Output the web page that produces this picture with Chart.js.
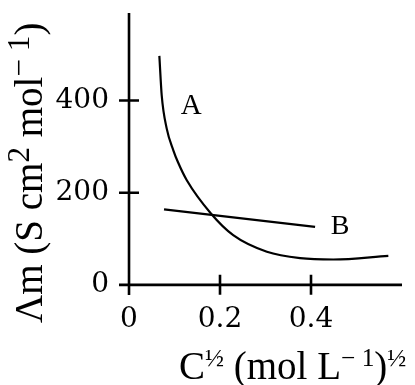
<!DOCTYPE html>
<html>
<head>
<meta charset="utf-8">
<script src="https://cdn.jsdelivr.net/npm/chart.js@4/dist/chart.umd.min.js"></script>
<style>
  html, body { margin: 0; padding: 0; background: #ffffff; }
  #wrap { width: 415px; height: 385px; }
</style>
</head>
<body>
<div id="wrap"><canvas id="c" width="415" height="385"></canvas></div>
<script>
// ---- data ----
const curveA_x = [0.0667, 0.0719, 0.0829, 0.0974, 0.1077, 0.127, 0.180, 0.229, 0.303, 0.376, 0.449, 0.570];
const curveA_y = [497, 411, 339, 292, 266, 227, 155, 108, 72, 58, 55, 63];
const lineB_x = [0.077, 0.409];
const lineB_y = [164, 126];
const xTickValues = [0, 0.2, 0.4];
const yTickValues = [0, 200, 400];
const seriesLabels = ["A", "B"];
const labelPos_x = [0.137, 0.464];
const labelPos_y = [388, 126];
// titles as rich-text segments (text, isSuperscript)
const xTitleParts = [["C", false], ["\u00BD", true], [" (mol L", false], ["\u2212 1", true], [")", false], ["\u00BD", true]];
const yTitleParts = [["\u039Bm (S cm", false], ["2", true], [" mol", false], ["\u2212 1", true], [")", false]];

const FONT = "'Liberation Serif', 'Times New Roman', serif";
const TICKFONT = "'DejaVu Serif', serif";

const toPts = (xs, ys) => xs.map((x, i) => ({ x: x, y: ys[i] }));

function drawRich(ctx, parts, size, supScale, supRise) {
  let x = 0;
  parts.forEach(([t, sup]) => {
    const s = sup ? size * supScale : size;
    ctx.font = s + "px " + FONT;
    ctx.fillText(t, x, sup ? -size * supRise : 0);
    x += ctx.measureText(t).width;
  });
}

const axesPlugin = {
  id: 'axesPlugin',
  afterDatasetsDraw(chart) {
    const ctx = chart.ctx;
    const xs = chart.scales.x, ys = chart.scales.y;
    const x0 = xs.getPixelForValue(0), y0 = ys.getPixelForValue(0);
    ctx.save();
    ctx.strokeStyle = '#000';
    ctx.lineWidth = 2.6;
    ctx.lineCap = 'butt';
    ctx.beginPath();
    ctx.moveTo(xs.getPixelForValue(xs.min), y0);
    ctx.lineTo(xs.getPixelForValue(xs.max), y0);
    ctx.moveTo(x0, ys.getPixelForValue(ys.min));
    ctx.lineTo(x0, ys.getPixelForValue(ys.max));
    xTickValues.forEach(v => {
      if (v === 0) return;
      const px = xs.getPixelForValue(v);
      ctx.moveTo(px, y0 - 10); ctx.lineTo(px, y0 + 10);
    });
    yTickValues.forEach(v => {
      if (v === 0) return;
      const py = ys.getPixelForValue(v);
      ctx.moveTo(x0 - 10, py); ctx.lineTo(x0 + 10, py);
    });
    ctx.stroke();

    ctx.fillStyle = '#000';
    ctx.textAlign = 'center';
    ctx.textBaseline = 'middle';
    seriesLabels.forEach((t, i) => {
      ctx.font = (i === 0 ? 29 : 28) + "px " + FONT;
      ctx.fillText(t, xs.getPixelForValue(labelPos_x[i]), ys.getPixelForValue(labelPos_y[i]));
    });

    // axis titles
    const ca = chart.chartArea;
    ctx.textAlign = 'left';
    ctx.textBaseline = 'alphabetic';
    ctx.save();
    ctx.translate(ca.left + 60, ca.bottom + 84);
    drawRich(ctx, xTitleParts, 39, 0.65, 0.34);
    ctx.restore();
    ctx.save();
    ctx.translate(42, ca.bottom + 28);
    ctx.rotate(-Math.PI / 2);
    drawRich(ctx, yTitleParts, 39, 0.8, 0.34);
    ctx.restore();
    ctx.restore();
  }
};

const noPad = s => { s.paddingTop = 0; s.paddingBottom = 0; s.paddingLeft = 0; s.paddingRight = 0; };

new Chart(document.getElementById('c'), {
  type: 'scatter',
  data: {
    datasets: [
      { label: seriesLabels[0], data: toPts(curveA_x, curveA_y), showLine: true,
        borderColor: '#000', borderWidth: 2.2, pointRadius: 0, cubicInterpolationMode: 'monotone' },
      { label: seriesLabels[1], data: toPts(lineB_x, lineB_y), showLine: true,
        borderColor: '#000', borderWidth: 2.2, pointRadius: 0 }
    ]
  },
  options: {
    responsive: false,
    animation: false,
    events: [],
    layout: { padding: { left: 0, right: 13, top: 13, bottom: 0 } },
    plugins: { legend: { display: false }, tooltip: { enabled: false } },
    scales: {
      x: {
        type: 'linear', min: -0.022, max: 0.6,
        afterBuildTicks: s => { s.ticks = xTickValues.map(v => ({ value: v })); },
        afterFit: s => { s.height = 90; noPad(s); },
        grid: { display: false, drawTicks: false },
        border: { display: false },
        ticks: { color: '#000', padding: 8, font: { family: TICKFONT, size: 28 },
                 maxRotation: 0, autoSkip: false, callback: v => String(v) },
        title: { display: false }
      },
      y: {
        type: 'linear', min: -22, max: 590,
        afterBuildTicks: s => { s.ticks = yTickValues.map(v => ({ value: v })); },
        afterFit: s => { s.width = 119; noPad(s); },
        grid: { display: false, drawTicks: false },
        border: { display: false },
        ticks: { color: '#000', padding: 10, font: { family: TICKFONT, size: 28 },
                 autoSkip: false, callback: v => String(v) },
        title: { display: false }
      }
    }
  },
  plugins: [axesPlugin]
});
</script>
</body>
</html>
